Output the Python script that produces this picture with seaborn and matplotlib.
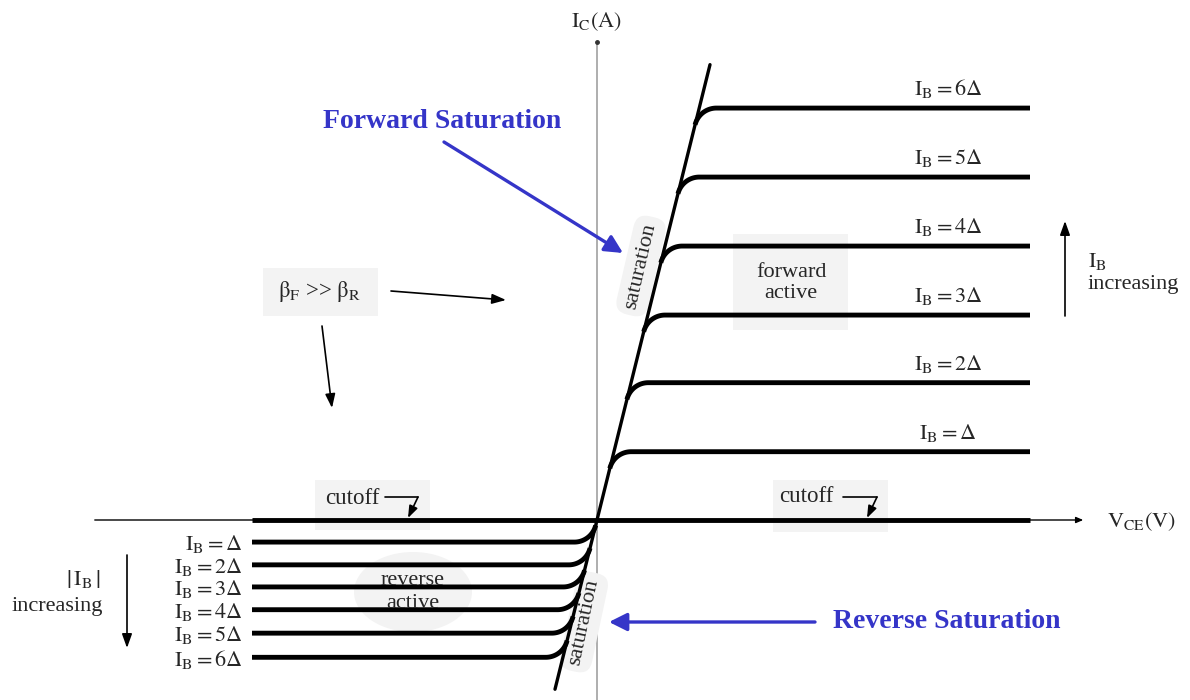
import numpy as np
import pandas as pd
import matplotlib
matplotlib.use("Agg")
import matplotlib.pyplot as plt
from matplotlib.patches import FancyBboxPatch, Ellipse
import seaborn as sns

# ---- data -------------------------------------------------------------
ib_steps = [1, 2, 3, 4, 5, 6]                      # I_B = k * Delta
forward_ic = [0.99, 1.99, 2.97, 3.97, 4.97, 5.97]  # I_C plateaus, forward active (A)
reverse_ic = [-0.32, -0.65, -0.97, -1.30, -1.64, -1.99]  # I_C plateaus, reverse active (A)
sat_slope = 2.92          # dI_C/dV_CE of the saturation boundary
sat_v = [-0.84, 2.26]     # extent of the saturation boundary (V)
v_fwd_end = 8.66          # end of forward curves (V)
v_rev_end = -6.90         # end of reverse curves (V)
forward_labels = [r"$\mathrm{I_B = \Delta}$"] + [rf"$\mathrm{{I_B = {k}\Delta}}$" for k in ib_steps[1:]]
reverse_labels = forward_labels

# ---- theme ------------------------------------------------------------
sns.set_theme(style="white")
plt.rcParams["font.family"] = ["Liberation Serif", "DejaVu Serif"]
plt.rcParams["mathtext.fontset"] = "stix"

W, H = 1190, 700
fig = plt.figure(figsize=(W / 100, H / 100), dpi=100)
ax = fig.add_axes([0, 0, 1, 1])
X0, Y0, SX, SY = 597, 520, 50.0, 69.0
KNEE_R = 22.0             # knee radius, in screen pixels


def P(x, y):
    """pixel position -> (V, I) data position"""
    return ((x - X0) / SX, (Y0 - y) / SY)


def characteristic(level, v_end):
    """Curve that leaves the saturation line with a round knee and runs flat
    at I_C = level out to v_end.  The fillet is built in screen-isotropic units."""
    sign = 1.0 if level > 0 else -1.0
    g = sat_slope * SY / SX                    # slope in isotropic units
    L = abs(level) * SY
    theta = np.arctan(g)
    cx, cy = L / g, L                          # corner (first quadrant frame)
    half = (np.pi - theta) / 2                 # half the angle between the two legs
    t = KNEE_R / np.tan(half)
    ox, oy = cx + t, cy - KNEE_R               # fillet centre
    ang = np.linspace(np.pi / 2 + theta, np.pi / 2, 60)
    ax_pts = ox + KNEE_R * np.cos(ang)
    ay_pts = oy + KNEE_R * np.sin(ang)
    fx = np.append(ax_pts, abs(v_end) * SX)
    fy = np.append(ay_pts, L)
    return sign * fx / SX, sign * fy / SY


# ---- curves -------------------------------------------------------------
rows = []
for k, ic in zip(ib_steps, forward_ic):
    v, i = characteristic(ic, v_fwd_end)
    rows.append(pd.DataFrame({"V": v, "I": i, "curve": f"f{k}"}))
for k, ic in zip(ib_steps, reverse_ic):
    v, i = characteristic(ic, v_rev_end)
    rows.append(pd.DataFrame({"V": v, "I": i, "curve": f"r{k}"}))
curves = pd.concat(rows, ignore_index=True)

# axes lines
ax.plot([0, 0], [P(0, 42)[1], P(0, 700)[1]], color="#a8a8a8", lw=1.3, zorder=1)
ax.plot([0], [P(0, 42)[1]], "o", color="#333333", ms=2.5, zorder=2)
ax.annotate("", xy=P(1086, 520), xytext=P(92, 520),
            arrowprops=dict(arrowstyle="-|>,head_length=0.35,head_width=0.15",
                            color="black", lw=1.0), zorder=2)

sns.lineplot(data=curves, x="V", y="I", units="curve", estimator=None, sort=False,
             color="black", lw=3.5, ax=ax, legend=False, zorder=4,
             solid_capstyle="butt")

# cutoff (I_B = 0)
cut = pd.DataFrame({"V": [v_rev_end, v_fwd_end], "I": [0.0, 0.0]})
sns.lineplot(data=cut, x="V", y="I", color="black", lw=3.5, ax=ax, zorder=4,
             solid_capstyle="butt")

# saturation boundary
sat = pd.DataFrame({"V": sat_v, "I": [sat_slope * v for v in sat_v]})
sns.lineplot(data=sat, x="V", y="I", color="black", lw=2.4, ax=ax, zorder=5)
ax.set_xlim(-X0 / SX, (W - X0) / SX)
ax.set_ylim(-(H - Y0) / SY, Y0 / SY)
ax.set_xlabel("")
ax.set_ylabel("")
ax.axis("off")

# ---- shaded region boxes -----------------------------------------------
box_fc = "#f3f3f3"


def rect(x1, y1, x2, y2, rounding=0.0):
    (a, b), (c, d) = P(x1, y2), P(x2, y1)
    ax.add_patch(FancyBboxPatch((a, b), c - a, d - b,
                                boxstyle=f"round,pad=0,rounding_size={rounding}",
                                fc=box_fc, ec="none", zorder=0.5))


rect(263, 268, 378, 316)      # beta box
rect(733, 234, 848, 330)      # forward active
rect(315, 480, 430, 530)      # cutoff left
rect(773, 480, 888, 532)      # cutoff right
ec, er = P(413, 592), P(472, 632)
ax.add_patch(Ellipse(ec, 2 * (er[0] - ec[0]), 2 * (ec[1] - er[1]),
                     fc=box_fc, ec="none", zorder=0.5))

# ---- text ---------------------------------------------------------------
fs = 16
ax.text(*P(596, 22), r"$\mathrm{I_C(A)}$", ha="center", va="center", fontsize=fs)
ax.text(*P(1107, 522), r"$\mathrm{V_{CE}(V)}$", ha="left", va="center", fontsize=fs)

for ic, lab in zip(forward_ic, forward_labels):
    ax.text(P(948, 0)[0], ic + 8 / SY, lab, ha="center", va="bottom", fontsize=fs, zorder=6)
for ic, lab in zip(reverse_ic, reverse_labels):
    ax.text(P(243, 0)[0], ic - 2 / SY, lab, ha="right", va="center", fontsize=fs, zorder=6)

ax.text(*P(791, 283), "forward\nactive", ha="center", va="center", fontsize=fs,
        linespacing=1.15, zorder=6)
ax.text(*P(413, 592), "reverse\nactive", ha="center", va="center", fontsize=fs,
        linespacing=1.25, zorder=6)
ax.text(*P(352, 498), "cutoff", ha="center", va="center", fontsize=16.5, zorder=6)
ax.text(*P(806, 497), "cutoff", ha="center", va="center", fontsize=16.5, zorder=6)

ax.text(*P(320, 292), r"$\mathrm{\beta_F}$ >> $\mathrm{\beta_R}$", ha="center",
        va="center", fontsize=16.5, zorder=6)

ax.text(*P(1088, 262), r"$\mathrm{I_B}$", ha="left", va="center", fontsize=fs)
ax.text(*P(1088, 285), "increasing", ha="left", va="center", fontsize=fs)
ax.text(*P(83, 579), r"$\mathrm{\left|\,I_B\,\right|}$", ha="center", va="center", fontsize=fs)
ax.text(*P(57, 606), "increasing", ha="center", va="center", fontsize=fs)

sat_box = dict(boxstyle="round,pad=0.3,rounding_size=0.6", fc=box_fc, ec="none")
ax.text(*P(641, 266), "saturation", rotation=77, ha="center", va="center",
        fontsize=16, bbox=sat_box, zorder=3)
ax.text(*P(584, 622), "saturation", rotation=78, ha="center", va="center",
        fontsize=16, bbox=sat_box, zorder=3)

blue = "#3535c8"
ax.text(*P(442, 122), "Forward Saturation", ha="center", va="center",
        fontsize=20, fontweight="bold", color=blue)
ax.text(*P(947, 622), "Reverse Saturation", ha="center", va="center",
        fontsize=20, fontweight="bold", color=blue)

# ---- arrows -------------------------------------------------------------
blue_arrow = dict(arrowstyle="-|>,head_length=0.9,head_width=0.45", color=blue, lw=2.4,
                  shrinkA=0, shrinkB=0)
ax.annotate("", xy=P(623, 253), xytext=P(444, 142), arrowprops=blue_arrow)
ax.annotate("", xy=P(609, 622), xytext=P(815, 622), arrowprops=blue_arrow)

black_arrow = dict(arrowstyle="-|>,head_length=0.7,head_width=0.25", color="black", lw=1.2,
                   shrinkA=0, shrinkB=0)
ax.annotate("", xy=P(506, 300), xytext=P(391, 291), arrowprops=black_arrow)
ax.annotate("", xy=P(332, 408), xytext=P(322, 326), arrowprops=black_arrow)
ax.annotate("", xy=P(1065, 221), xytext=P(1065, 316), arrowprops=black_arrow)
ax.annotate("", xy=P(127, 648), xytext=P(127, 555), arrowprops=black_arrow)

small_arrow = dict(arrowstyle="-|>,head_length=0.6,head_width=0.22", color="black", lw=1.2,
                   shrinkA=0, shrinkB=0)
for x1, x2, x3 in [(385, 418, 408), (843, 877, 867)]:
    ax.plot(*zip(P(x1, 497), P(x2, 497)), color="black", lw=1.2, zorder=6)
    ax.annotate("", xy=P(x3, 518), xytext=P(x2, 497), arrowprops=small_arrow, zorder=6)

fig.savefig("out.png", dpi=100)
